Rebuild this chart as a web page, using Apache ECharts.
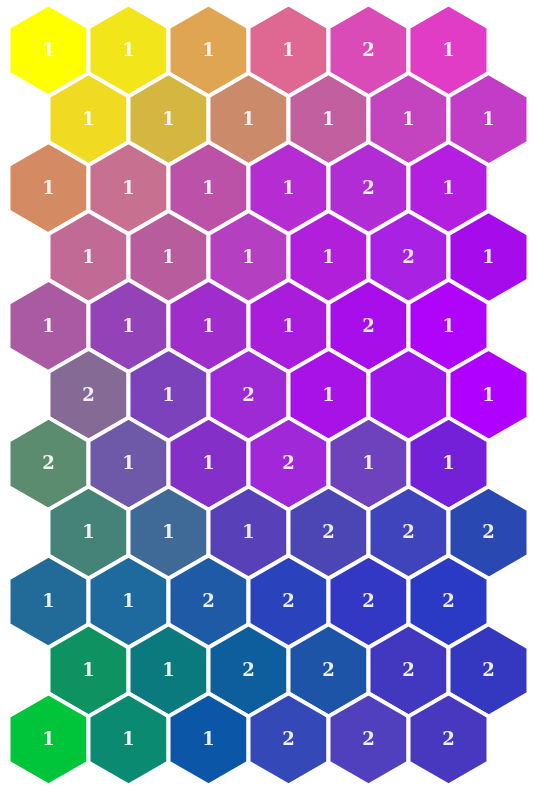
<!DOCTYPE html>
<html>
<head>
<meta charset="utf-8">
<script src="https://cdn.jsdelivr.net/npm/echarts@6/dist/echarts.min.js"></script>
<style>
html,body{margin:0;padding:0;background:#fff;}
#chart{width:534px;height:792px;}
</style>
</head>
<body>
<div id="chart"></div>
<script>
// SOM-style hex grid: 11 rows x 6 columns; odd rows shifted half a cell right
const rowCount = 11;
const colCount = 6;

const labels = [
  ['1','1','1','1','2','1'],
  ['1','1','1','1','1','1'],
  ['1','1','1','1','2','1'],
  ['1','1','1','1','2','1'],
  ['1','1','1','1','2','1'],
  ['2','1','2','1','','1'],
  ['2','1','1','2','1','1'],
  ['1','1','1','2','2','2'],
  ['1','1','2','2','2','2'],
  ['1','1','2','2','2','2'],
  ['1','1','1','2','2','2']
];

const colors = [
  ['#FFFF00','#F2E51A','#E0A552','#DF6892','#DA4BB8','#E03CC5'],
  ['#F0DA22','#D4B640','#CB8A6A','#C2609F','#C443BE','#C23CC8'],
  ['#D48A62','#C8708F','#BB52A8','#B52CD2','#B22CD6','#B31EE0'],
  ['#C06A95','#B95C9E','#B43FC0','#B21FDB','#A922E3','#A60BEC'],
  ['#A95AA2','#9442B8','#A02CCB','#AA1CDC','#A80EEA','#B003F9'],
  ['#856A96','#7B42BC','#9D2AD4','#A812E6','#A015EA','#B000FF'],
  ['#5C8C6F','#6E58A8','#8430C8','#A028D8','#6E42BC','#7420D8'],
  ['#458278','#3F6A98','#5840B8','#4C46B4','#3F44BC','#2A48B2'],
  ['#226A98','#1E6A9E','#1E5AA6','#2A42BC','#3238C4','#2A3AC4'],
  ['#0E9262','#0B7A7E','#0E5E9E','#1E54A8','#4238C0','#3438C0'],
  ['#00C43A','#0A8A70','#0C56A8','#3448B8','#5040BE','#4838C0']
];

const data = [];
const cellLabels = [];
for (let r = 0; r < rowCount; r++) {
  for (let c = 0; c < colCount; c++) {
    data.push({
      value: [c + (r % 2 ? 0.5 : 0), r],
      itemStyle: { color: colors[r][c] }
    });
    cellLabels.push(labels[r][c]);
  }
}

const chart = echarts.init(document.getElementById('chart'), null, { renderer: 'canvas' });

function renderHex(params, api) {
  const center = api.coord([api.value(0), api.value(1)]);
  const unit = api.size([1, 0])[0];
  const R = unit / Math.sqrt(3);
  const pts = [];
  for (let i = 0; i < 6; i++) {
    const a = Math.PI / 180 * (60 * i - 90);
    pts.push([center[0] + R * Math.cos(a), center[1] + R * Math.sin(a)]);
  }
  return {
    type: 'group',
    children: [
      {
        type: 'polygon',
        shape: { points: pts },
        style: { fill: api.visual('color'), stroke: '#ffffff', lineWidth: 4, lineJoin: 'miter' }
      },
      {
        type: 'text',
        x: center[0], y: center[1] + 1,
        style: {
          text: cellLabels[params.dataIndex],
          fill: '#ffffff',
          opacity: 0.9,
          fontSize: 18,
          fontWeight: 'bold',
          fontFamily: 'DejaVu Serif',
          align: 'center',
          verticalAlign: 'middle'
        }
      }
    ]
  };
}

chart.setOption({
  animation: false,
  backgroundColor: '#ffffff',
  grid: { left: 0, right: 0, top: 0, bottom: 0 },
  xAxis: { type: 'value', min: -0.60625, max: 6.06875, show: false },
  yAxis: { type: 'value', min: -0.7315, max: 10.7634, inverse: true, show: false },
  series: [{
    type: 'custom',
    renderItem: renderHex,
    data: data,
    encode: { x: 0, y: 1 }
  }]
});
</script>
</body>
</html>
